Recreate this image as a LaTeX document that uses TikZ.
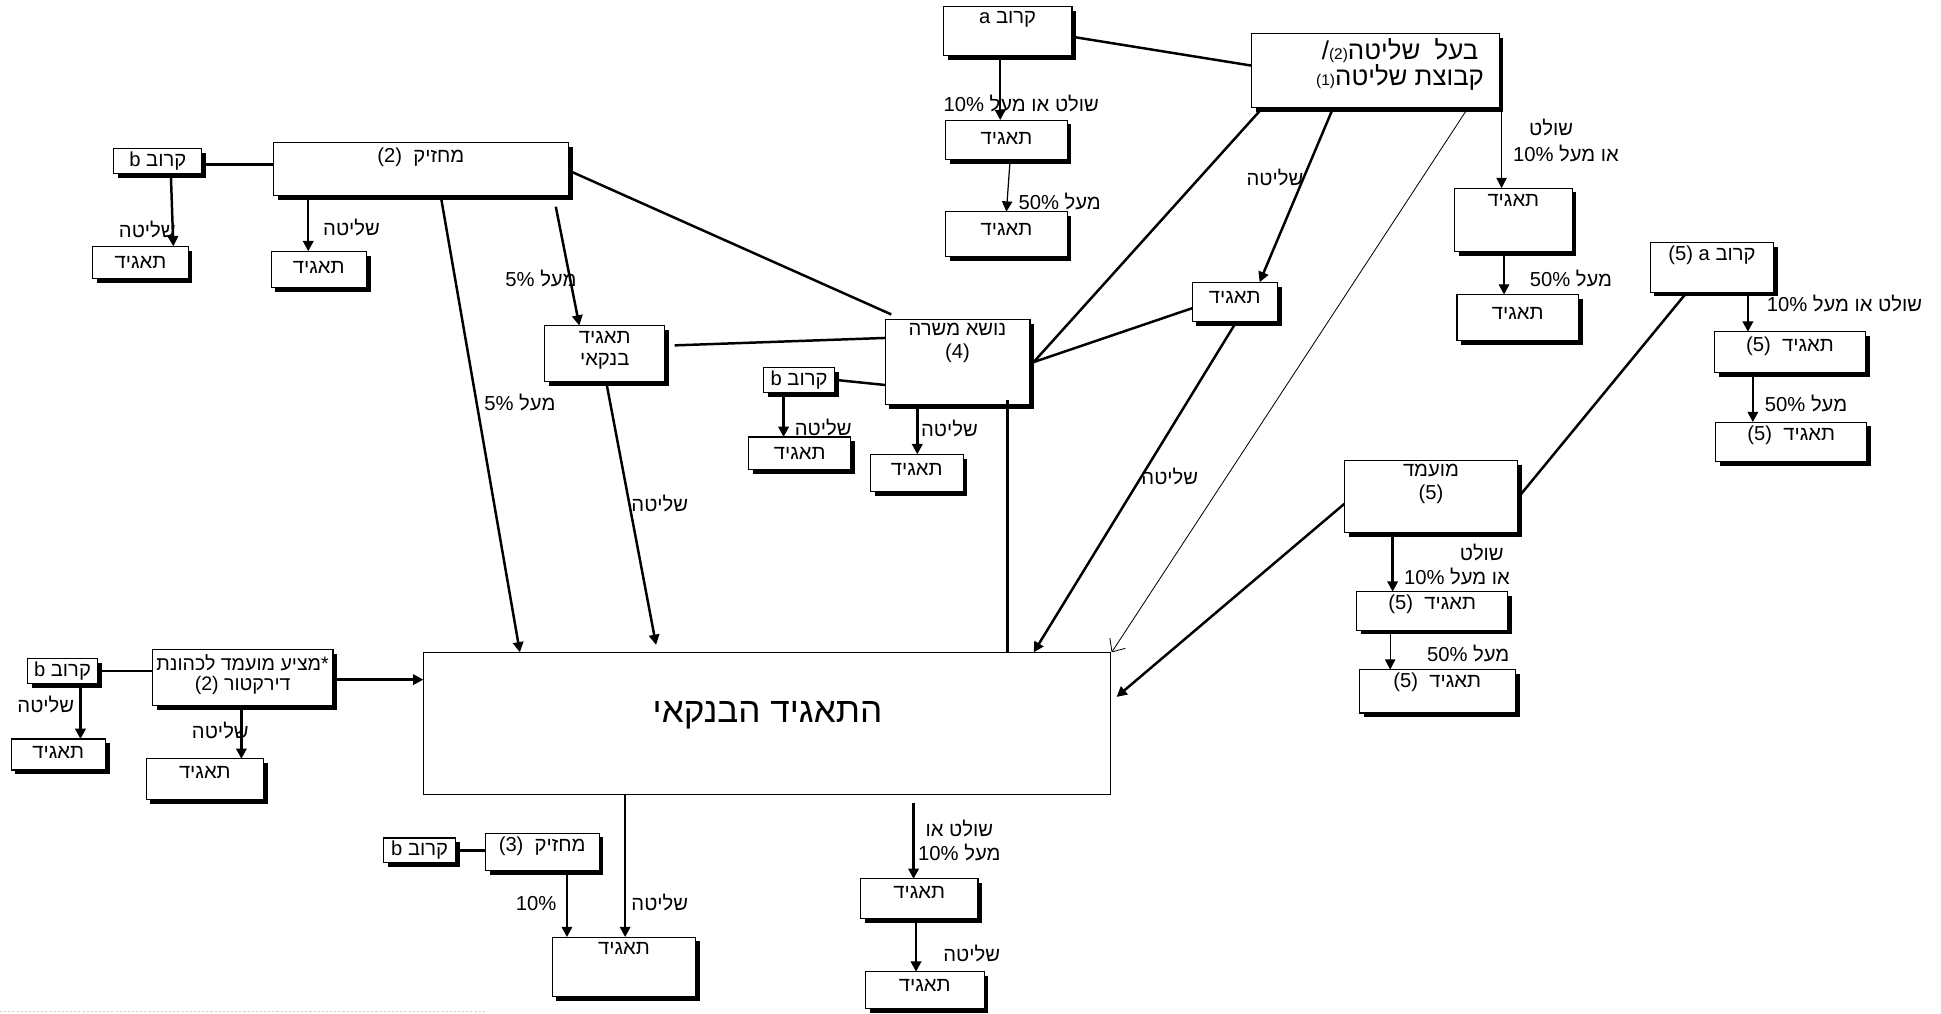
\documentclass[tikz,border=0pt]{standalone}
\usepackage{fontspec}
\setmainfont{Liberation Sans}
\newfontfamily\hebfont[Script=Hebrew]{Liberation Sans}
\TeXXeTstate=1
\usetikzlibrary{arrows.meta,calc}
\newcommand\heb[1]{\beginR #1\endR}
\newcommand\lt[1]{\hbox{#1}}
\newcommand\sm[1]{\hbox{\fontsize{7.5}{9}\selectfont #1}}
\newcommand\bx[8][]{%
  \fill[black] (#3+3.5,-#4-3.5) rectangle (#5+3.5,-#6-3.5);
  \node[box,minimum width={(#5-#3)*0.6pt},minimum height={(#6-#4)*0.6pt}] (#2) at ({(#3+#5)/2},{-(#4+#6)/2}) {};
  \node[lbl,#1] (#2t) at ({(#3+#5)/2},-#7) {#8};
}
\begin{document}
\begin{tikzpicture}[x=0.6pt,y=0.6pt,
  box/.style={draw,fill=white,line width=0.55pt,inner sep=0pt,outer sep=0pt},
  lbl/.style={font=\hebfont\fontsize{9.8}{12}\selectfont,inner sep=0pt,align=center},
  conn/.style={line width=1.2pt},
  arr/.style={conn,-{Triangle[length=5pt,width=5pt]}},
  tarr/.style={line width=0.6pt,-{Triangle[length=5pt,width=5pt]}},
  oarr/.style={line width=0.4pt,-{Straight Barb[length=5pt,width=9pt]}}]
\useasboundingbox (0,0) rectangle (1568,-819);
\draw[gray!40,dash pattern=on 1pt off 1pt,line width=0.4pt] (0,-817) -- (393,-817);

% ---------- boxes ----------
\bx{A1}{762}{5}{866}{45}{16}{\heb{קרוב \lt{a}}}
\bx{Ta1}{764}{97}{862}{129}{112}{\heb{תאגיד}}
\bx{Ta2}{764}{171}{862}{207}{185}{\heb{תאגיד}}
\bx[font=\hebfont\fontsize{12.5}{12.5}\selectfont,xshift=12pt]{B}{1011}{27}{1211}{87}{52}{\heb{בעל\ \ שליטה\sm{(2)}\lt{/}}\\\heb{קבוצת שליטה\sm{(1)}}}
\bx{Td}{1175}{152}{1270}{203}{162}{\heb{תאגיד}}
\bx{Td2}{1177}{238}{1275}{275}{253}{\heb{תאגיד}}
\bx{Tc}{963}{228}{1032}{260}{240}{\heb{תאגיד}}
\bx[font=\hebfont\fontsize{9.8}{11}\selectfont]{N}{715}{258}{832}{327}{277}{\heb{נושא משרה}\\\heb{\lt{(4)}}}
\bx{KbN}{617}{297}{674}{317}{307}{\heb{קרוב \lt{b}}}
\bx{Tn1}{605}{353}{687}{379}{366}{\heb{תאגיד}}
\bx{Tn2}{703}{367}{778}{397}{379}{\heb{תאגיד}}
\bx{M2}{221}{115}{459}{158}{127}{\heb{מחזיק\ \ \lt{(2)}}}
\bx{Kb1}{92}{120}{163}{140}{130}{\heb{קרוב \lt{b}}}
\bx{Tk1}{75}{199}{152}{225}{212}{\heb{תאגיד}}
\bx{Tm}{219}{203}{296}{232}{216}{\heb{תאגיד}}
\bx[font=\hebfont\fontsize{9.8}{11}\selectfont]{TB}{440}{263}{537}{308}{283}{\heb{תאגיד}\\\heb{בנקאי}}
\bx[font=\hebfont\fontsize{9.5}{10}\selectfont]{MZ}{123}{525}{269}{570}{545}{\heb{\lt{*}מציע מועמד לכהונת}\\\heb{דירקטור \lt{(2)}}}
\bx{Kb2}{22}{532}{79}{552}{542}{\heb{קרוב \lt{b}}}
\bx{Tz1}{9}{597}{85}{622}{608}{\heb{תאגיד}}
\bx{Tz2}{118}{613}{213}{646}{624}{\heb{תאגיד}}
\bx{M3}{392}{673}{484}{703}{684}{\heb{מחזיק\ \ \lt{(3)}}}
\bx{Kb3}{310}{677}{368}{697}{687}{\heb{קרוב \lt{b}}}
\bx{Tb1}{446}{757}{562}{805}{766}{\heb{תאגיד}}
\bx{Tb2}{695}{710}{790}{742}{721}{\heb{תאגיד}}
\bx{Tb3}{699}{785}{795}{815}{796}{\heb{תאגיד}}
\bx[font=\hebfont\fontsize{9.8}{11}\selectfont]{MO}{1086}{372}{1226}{430}{391}{\heb{מועמד}\\\heb{\lt{(5)}}}
\bx{To1}{1096}{478}{1218}{509}{488}{\heb{תאגיד\ \ \lt{(5)}}}
\bx{To2}{1098}{541}{1224}{576}{551}{\heb{תאגיד\ \ \lt{(5)}}}
\bx{Ka5}{1333}{196}{1433}{236}{206}{\heb{קרוב \lt{a} \lt{(5)}}}
\bx{Tk5a}{1385}{268}{1507}{301}{280}{\heb{תאגיד\ \ \lt{(5)}}}
\bx{Tk5b}{1386}{341}{1508}{373}{352}{\heb{תאגיד\ \ \lt{(5)}}}

% main box
\node[box,line width=0.6pt,minimum width={555*0.6pt},minimum height={115*0.6pt}] (MB) at (619.5,-584.5) {};
\node[lbl,font=\hebfont\fontsize{17}{20}\selectfont] (MBt) at (620,-578) {\heb{התאגיד הבנקאי}};

% ---------- connectors ----------
\draw[conn] ($(A1.north east)+(2,-25)$) -- ($(B.north west)+(0,-26)$);
\draw[arr] ($(A1.south)+(-6,0)$) -- ($(Ta1.north)+(-5,0)$);
\draw[tarr] ($(Ta1.south)+(3,0)$) -- ($(Ta2.north)+(0,0)$);
\draw[conn] ($(B.south west)+(9,0)$) -- ($(N.east)+(3,0)$);
\draw[arr] ($(B.south west)+(66,0)$) -- ($(Tc.north)+(20,0)$);
\draw[oarr] ($(B.south west)+(175,0)$) -- ($(MB.north east)+(1,0)$);
\draw[tarr] ($(B.south west)+(202,0)$) -- ($(Td.north)+(-9.5,0)$);
\draw[arr] ($(Td.south)+(-7.5,0)$) -- ($(Td2.north)+(-11,0)$);
\draw[conn] ($(Tc.west)+(0,-5)$) -- ($(N.east)+(3,0)$);
\draw[arr] ($(Tc.south)+(0,-2)$) -- ($(MB.north west)+(493,0)$);
\draw[conn] ($(M2.east)+(1,-1.5)$) -- ($(N.north west)+(5,4)$);
\draw[conn] ($(TB.east)+(8,6.5)$) -- ($(N.west)+(0,19.5)$);
\draw[conn] ($(KbN.east)+(2,0)$) -- ($(N.west)+(0,-18.5)$);
\draw[arr] ($(KbN.south west)+(16,0)$) -- ($(Tn1.north west)+(28,0)$);
\draw[arr] ($(N.south west)+(26,0)$) -- ($(Tn2.north west)+(38,0)$);
\draw[conn] ($(N.south west)+(99,4)$) -- ($(MB.north west)+(472,0)$);
\draw[conn] ($(Kb1.east)+(2,-3)$) -- ($(M2.west)+(0,3.5)$);
\draw[arr] ($(Kb1.south west)+(46,0)$) -- ($(Tk1.north west)+(65,0)$);
\draw[arr] ($(M2.south west)+(28,0)$) -- ($(Tm.north west)+(30,0)$);
\draw[arr] ($(M2.south west)+(135,0)$) -- ($(MB.north west)+(78,0)$);
\draw[arr] ($(M2.south west)+(228,-9)$) -- ($(TB.north west)+(28,0)$);
\draw[arr] ($(TB.south)+(1.5,-2)$) -- ($(MB.north west)+(188,6)$);
\draw[arr] ($(MZ.east)+(1,-1.5)$) -- ($(MB.north west)+(0,-22)$);
\draw[conn] (Kb2.east) -- (Kb2.east -| MZ.west);
\draw[arr] ($(Kb2.south west)+(43,0)$) -- ($(Tz1.north west)+(56,0)$);
\draw[arr] ($(MZ.south west)+(72,-3)$) -- ($(Tz2.north west)+(77,0)$);
\draw[arr] ($(M3.south west)+(66,-2)$) -- ($(Tb1.north west)+(12,0)$);
\draw[arr] ($(MB.south west)+(163,0)$) -- ($(Tb1.north west)+(59,0)$);
\draw[conn] (Kb3.east) -- (Kb3.east -| M3.west);
\draw[arr] ($(MB.south west)+(396,-7)$) -- ($(Tb2.north west)+(43,0)$);
\draw[arr] ($(Tb2.south west)+(45,-1)$) -- ($(Tb3.north west)+(41,0)$);
\draw[arr] ($(MO.west)+(0,-6)$) -- ($(MB.north east)+(5,-36)$);
\draw[arr] ($(MO.south west)+(39,-2)$) -- ($(To1.north west)+(29,0)$);
\draw[tarr] ($(To1.south west)+(27,-2)$) -- ($(To2.north west)+(25,0)$);
\draw[conn] ($(MO.east)+(2,1)$) -- ($(Ka5.south west)+(29,-1)$);
\draw[arr] ($(Ka5.south west)+(79,-2)$) -- ($(Tk5a.north west)+(27,0)$);
\draw[arr] ($(Tk5a.south west)+(31,-3)$) -- ($(Tk5b.north west)+(30,0)$);

% ---------- labels ----------
\node[lbl] (l1) at (825,-84) {\heb{שולט או מעל \lt{10\%}}};
\node[lbl] (l2) at (856,-163) {\heb{מעל \lt{50\%}}};
\node[lbl] (l3) at (1030,-143) {\heb{שליטה}};
\node[lbl] (l4) at (1253,-103) {\heb{שולט}};
\node[lbl] (l5) at (1265,-124) {\heb{או מעל \lt{10\%}}};
\node[lbl] (l6) at (1269,-225) {\heb{מעל \lt{50\%}}};
\node[lbl] (l7) at (945,-385) {\heb{שליטה}};
\node[lbl] (l8) at (665,-345) {\heb{שליטה}};
\node[lbl] (l9) at (767,-346) {\heb{שליטה}};
\node[lbl] (l10) at (119,-185) {\heb{שליטה}};
\node[lbl] (l11) at (284,-184) {\heb{שליטה}};
\node[lbl] (l12) at (437,-225) {\heb{מעל \lt{5\%}}};
\node[lbl] (l13) at (420,-325) {\heb{מעל \lt{5\%}}};
\node[lbl] (l14) at (533,-407) {\heb{שליטה}};
\node[lbl] (l15) at (37,-569) {\heb{שליטה}};
\node[lbl] (l16) at (178,-590) {\heb{שליטה}};
\node[lbl] (l17) at (433,-730) {\lt{10\%}};
\node[lbl] (l18) at (533,-729) {\heb{שליטה}};
\node[lbl] (l19) at (775,-669) {\heb{שולט או}};
\node[lbl] (l20) at (775,-689) {\heb{מעל \lt{10\%}}};
\node[lbl] (l21) at (785,-770) {\heb{שליטה}};
\node[lbl] (l22) at (1197,-446) {\heb{שולט}};
\node[lbl] (l23) at (1177,-466) {\heb{או מעל \lt{10\%}}};
\node[lbl] (l24) at (1186,-528) {\heb{מעל \lt{50\%}}};
\node[lbl] (l25) at (1490,-245) {\heb{שולט או מעל \lt{10\%}}};
\node[lbl] (l26) at (1459,-326) {\heb{מעל \lt{50\%}}};
\end{tikzpicture}
\end{document}
